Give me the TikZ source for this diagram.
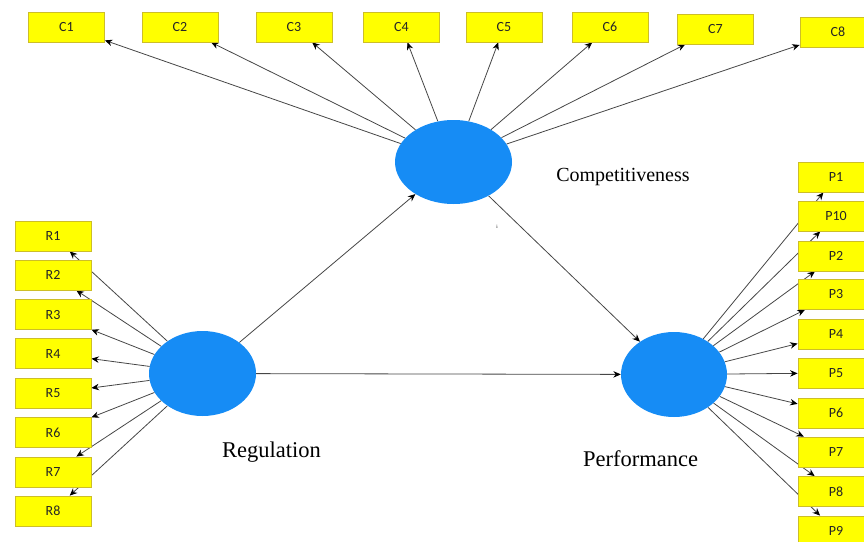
\documentclass[tikz,border=0pt]{standalone}
\usepackage{fontspec}
\setmainfont{Liberation Serif}
\newfontfamily\boxfont{Carlito}
\usetikzlibrary{shapes.geometric,arrows.meta,backgrounds}
\definecolor{boxyellow}{RGB}{255,255,0}
\definecolor{boxedge}{RGB}{205,190,40}
\definecolor{lvblue}{RGB}{22,140,245}
\definecolor{linegray}{RGB}{70,70,70}
\tikzset{
  ind/.style={draw=boxedge, fill=boxyellow, line width=0.8pt, minimum width=76pt, minimum height=30pt, inner sep=0pt, font=\boxfont\fontsize{14}{14}\selectfont, text=black!85},
  lv/.style={ellipse, fill=lvblue, draw=none, inner sep=0pt},
  lvlabel/.style={font=\fontsize{22.5}{23}\selectfont, text=black},
  conn/.style={draw=linegray, line width=0.8pt, -{Stealth[length=7.5pt,width=6.5pt,color=black]}}
}
\begin{document}
\begin{tikzpicture}[x=1pt,y=-1pt]
\path[use as bounding box] (0,0) rectangle (864,541);
\clip (0,0) rectangle (864,541);
% latent variables
\node[lv, minimum width=117pt, minimum height=84pt] (comp) at (453.5,162) {};
\node[lv, minimum width=107pt, minimum height=85pt] (reg) at (202.5,373.5) {};
\node[lv, minimum width=106pt, minimum height=85pt] (perf) at (674,374.5) {};
\node[lvlabel, font=\fontsize{20}{21}\selectfont] (complab) at (623,177) {Competitiveness};
\node[lvlabel] (reglab) at (271.5,452) {Regulation};
\node[lvlabel] (perflab) at (640.5,459) {Performance};
\node[font=\fontsize{5}{5}\selectfont, inner sep=0pt] (mark) at (497,227) {i};
% C indicators
\node[ind] (c1) at (66.5,27) {C1};
\node[ind] (c2) at (180,27) {C2};
\node[ind] (c3) at (294,27) {C3};
\node[ind] (c4) at (401.5,27) {C4};
\node[ind] (c5) at (504,27) {C5};
\node[ind] (c6) at (610,27) {C6};
\node[ind] (c7) at (715.5,29) {C7};
\node[ind] (c8) at (838,32) {C8};
% R indicators
\node[ind] (r1) at (53,236) {R1};
\node[ind] (r2) at (53,275) {R2};
\node[ind] (r3) at (53,314.5) {R3};
\node[ind] (r4) at (53,353.5) {R4};
\node[ind] (r5) at (53,393) {R5};
\node[ind] (r6) at (53,432.5) {R6};
\node[ind] (r7) at (53,472) {R7};
\node[ind] (r8) at (53,511) {R8};
% P indicators
\node[ind] (p1) at (836,177) {P1};
\node[ind] (p10) at (836,216) {P10};
\node[ind] (p2) at (836,256) {P2};
\node[ind] (p3) at (836,294.5) {P3};
\node[ind] (p4) at (836,334) {P4};
\node[ind] (p5) at (836,373) {P5};
\node[ind] (p6) at (836,413) {P6};
\node[ind] (p7) at (836,452) {P7};
\node[ind] (p8) at (836,491.5) {P8};
\node[ind] (p9) at (836,531) {P9};
\begin{pgfonlayer}{background}
\foreach \t in {c1,c2,c3,c4,c5,c6,c7,c8} \draw[conn] (comp) -- (\t);
\foreach \t in {r1,r2,r3,r4,r5,r6,r7,r8} \draw[conn] (reg) -- (\t);
\foreach \t in {p1,p10,p2,p3,p4,p5,p6,p7,p8,p9} \draw[conn] (perf) -- (\t);
\draw[conn] (reg) -- (comp);
\draw[conn] (reg) -- (perf);
\draw[conn] (comp) -- (perf);
\end{pgfonlayer}
\end{tikzpicture}
\end{document}
